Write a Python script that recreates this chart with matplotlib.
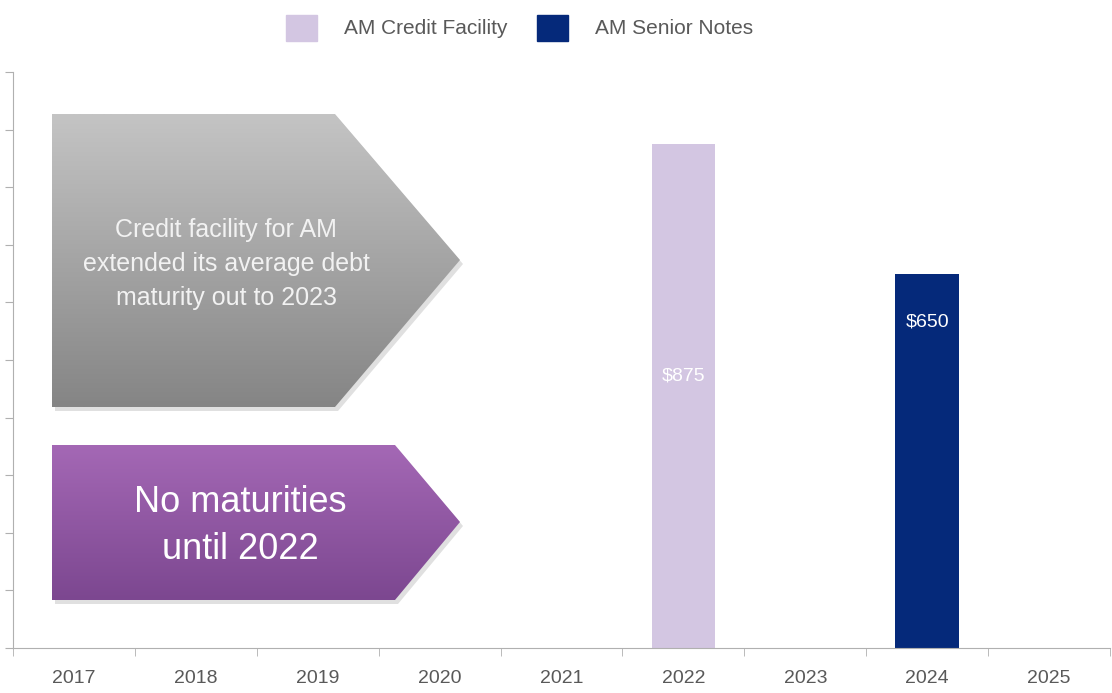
import numpy as np
import matplotlib.pyplot as plt
from matplotlib.patches import Polygon, Patch

plt.rcParams['font.family'] = ['Liberation Sans', 'DejaVu Sans']

years = ['2017', '2018', '2019', '2020', '2021', '2022', '2023', '2024', '2025']
credit_facility = [0, 0, 0, 0, 0, 875, 0, 0, 0]
senior_notes = [0, 0, 0, 0, 0, 0, 0, 650, 0]

W, H = 1112, 693
fig = plt.figure(figsize=(W / 100, H / 100), dpi=100)
ax = fig.add_axes([13 / W, 45 / H, (1110 - 13) / W, (648 - 72) / H])

x = np.arange(len(years))
light = '#d3c6e2'
navy = '#05297a'
ax.bar(x, credit_facility, width=0.52, color=light)
ax.bar(x, senior_notes, width=0.52, color=navy)

# value labels inside bars
for i, v in enumerate(credit_facility):
    if v:
        ax.text(x[i], v * 0.54, f'${v}', ha='center', va='center', color='white', fontsize=14)
for i, v in enumerate(senior_notes):
    if v:
        ax.text(x[i], v * 0.87, f'${v}', ha='center', va='center', color='white', fontsize=14)

ax.set_xlim(-0.5, len(years) - 0.5)
ax.set_ylim(0, 1000)
ax.set_yticks(np.arange(0, 1001, 100))
ax.set_yticklabels([])
ax.set_xticks(x)
ax.set_xticklabels(years, fontsize=14, color='#595959')
ax.set_xticks(np.arange(-0.5, len(years), 1), minor=True)
ax.tick_params(axis='x', which='major', length=0, pad=16)
ax.tick_params(axis='x', which='minor', length=6, color='#b0b0b0', direction='out')
ax.tick_params(axis='y', length=6, color='#b0b0b0', direction='out')
for s in ['top', 'right']:
    ax.spines[s].set_visible(False)
for s in ['left', 'bottom']:
    ax.spines[s].set_color('#b0b0b0')

# legend
handles = [Patch(color=light, label='AM Credit Facility'),
           Patch(color=navy, label='AM Senior Notes')]
fig.legend(handles=handles, loc='upper center', bbox_to_anchor=(0.467, 1.0), ncol=2,
           frameon=False, fontsize=15, handlelength=1.5, handleheight=1.55,
           columnspacing=1.4, handletextpad=1.3, labelcolor='#595959',
           borderaxespad=0.3)

# overlay for the callout arrows (pixel coordinates)
ov = fig.add_axes([0, 0, 1, 1])
ov.set_xlim(0, W)
ov.set_ylim(H, 0)
ov.axis('off')


def arrow(pts, top_col, bot_col, y0, y1):
    shadow = Polygon([(px + 3, py + 4) for px, py in pts], closed=True,
                     facecolor='#000000', alpha=0.12, edgecolor='none')
    ov.add_patch(shadow)
    poly = Polygon(pts, closed=True, facecolor='none', edgecolor='none')
    ov.add_patch(poly)
    c0 = np.array(plt.matplotlib.colors.to_rgb(top_col))
    c1 = np.array(plt.matplotlib.colors.to_rgb(bot_col))
    t = np.linspace(0, 1, 200)[:, None]
    grad = (c0 * (1 - t) + c1 * t)[:, None, :]
    im = ov.imshow(grad, extent=[40, 470, y1, y0], aspect='auto', zorder=2)
    im.set_clip_path(poly)


arrow([(52, 114), (335, 114), (460, 260), (335, 407), (52, 407)],
      '#c4c4c4', '#858585', 114, 407)
arrow([(52, 445), (395, 445), (460, 522), (395, 600), (52, 600)],
      '#a468b5', '#7c4790', 445, 600)
ov.set_xlim(0, W)
ov.set_ylim(H, 0)

ov.text(226, 264, 'Credit facility for AM\nextended its average debt\nmaturity out to 2023',
        ha='center', va='center', color='#f2f2f2', fontsize=18, linespacing=1.55, zorder=3)
ov.text(240, 526, 'No maturities\nuntil 2022', ha='center', va='center',
        color='white', fontsize=26, linespacing=1.45, zorder=3)

fig.savefig('out.png', dpi=100)
